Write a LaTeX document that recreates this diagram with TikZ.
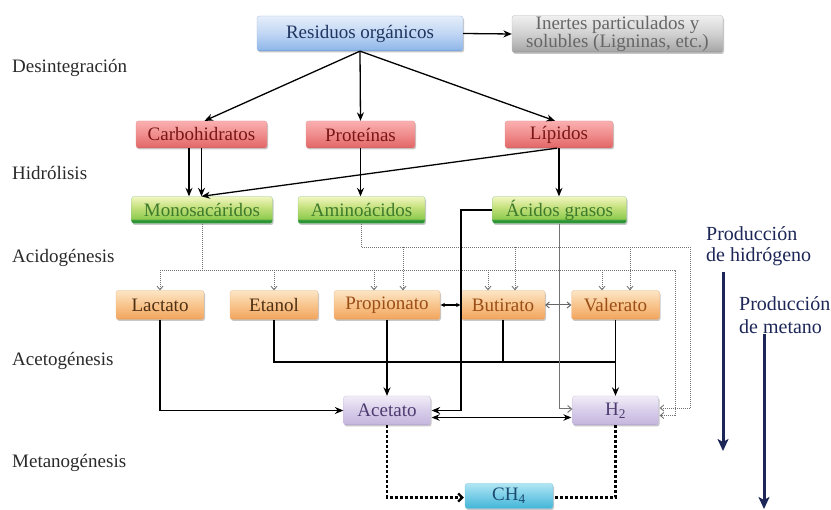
\documentclass[tikz,border=0pt]{standalone}
\usepackage{fontspec}
\setmainfont{Liberation Serif}
\usetikzlibrary{arrows.meta,shadows,calc}
\definecolor{cBlueE}{HTML}{5F8FD0}\definecolor{cBlueB}{HTML}{93B9EA}\definecolor{cBlueM}{HTML}{C0D6F4}\definecolor{cBlueT}{HTML}{E6EEFA}\definecolor{cBlueX}{HTML}{1F3560}
\definecolor{cGrayE}{HTML}{8A8A8A}\definecolor{cGrayB}{HTML}{A9A9A9}\definecolor{cGrayM}{HTML}{D0D0D0}\definecolor{cGrayT}{HTML}{F0F0F0}\definecolor{cGrayX}{HTML}{666666}
\definecolor{cRedE}{HTML}{C94848}\definecolor{cRedB}{HTML}{E46A6A}\definecolor{cRedM}{HTML}{F08C8C}\definecolor{cRedT}{HTML}{FAB0B0}\definecolor{cRedX}{HTML}{7A1616}
\definecolor{cGrnE}{HTML}{2E9438}\definecolor{cGrnB}{HTML}{8FCC50}\definecolor{cGrnM}{HTML}{C4E07C}\definecolor{cGrnT}{HTML}{F2F6C0}\definecolor{cGrnX}{HTML}{3D7A2B}
\definecolor{cOrE}{HTML}{D98840}\definecolor{cOrB}{HTML}{F3A862}\definecolor{cOrM}{HTML}{F8C48C}\definecolor{cOrT}{HTML}{FDE6C6}\definecolor{cOrX}{HTML}{9A4E16}\definecolor{cOrD}{HTML}{4E3014}
\definecolor{cLavE}{HTML}{A898C8}\definecolor{cLavB}{HTML}{C6B8DE}\definecolor{cLavM}{HTML}{D8CDEA}\definecolor{cLavT}{HTML}{F1EDF7}\definecolor{cLavX}{HTML}{4D3B70}
\definecolor{cCyE}{HTML}{2AA0C8}\definecolor{cCyB}{HTML}{48B8DA}\definecolor{cCyM}{HTML}{78CDE6}\definecolor{cCyT}{HTML}{B0E6F4}\definecolor{cCyX}{HTML}{1C4A70}
\definecolor{cNavy}{HTML}{1C2657}
\definecolor{cStage}{HTML}{2A2A2A}
\pgfdeclareverticalshading{shBlue}{100bp}{color(0bp)=(cBlueE); color(25bp)=(cBlueE); color(28bp)=(cBlueB); color(50bp)=(cBlueM); color(75bp)=(cBlueT); color(100bp)=(cBlueT)}
\pgfdeclareverticalshading{shGray}{100bp}{color(0bp)=(cGrayE); color(25bp)=(cGrayE); color(28bp)=(cGrayB); color(50bp)=(cGrayM); color(75bp)=(cGrayT); color(100bp)=(cGrayT)}
\pgfdeclareverticalshading{shRed}{100bp}{color(0bp)=(cRedE); color(25bp)=(cRedE); color(28bp)=(cRedB); color(50bp)=(cRedM); color(75bp)=(cRedT); color(100bp)=(cRedT)}
\pgfdeclareverticalshading{shGrn}{100bp}{color(0bp)=(cGrnE); color(25bp)=(cGrnE); color(31bp)=(cGrnE); color(34bp)=(cGrnB); color(55bp)=(cGrnM); color(75bp)=(cGrnT); color(100bp)=(cGrnT)}
\pgfdeclareverticalshading{shOr}{100bp}{color(0bp)=(cOrE); color(25bp)=(cOrE); color(28bp)=(cOrB); color(50bp)=(cOrM); color(75bp)=(cOrT); color(100bp)=(cOrT)}
\pgfdeclareverticalshading{shLav}{100bp}{color(0bp)=(cLavE); color(25bp)=(cLavE); color(28bp)=(cLavB); color(50bp)=(cLavM); color(75bp)=(cLavT); color(100bp)=(cLavT)}
\pgfdeclareverticalshading{shCy}{100bp}{color(0bp)=(cCyE); color(25bp)=(cCyE); color(28bp)=(cCyB); color(50bp)=(cCyM); color(75bp)=(cCyT); color(100bp)=(cCyT)}
\begin{document}
\begin{tikzpicture}[x=1pt,y=-1pt,
  every node/.style={font=\fontsize{19}{20}\selectfont},
  box/.style={rounded corners=2.5pt, inner sep=0pt, align=center,
    drop shadow={shadow xshift=1pt,shadow yshift=-1.5pt,opacity=.22,fill=black}},
  bluebox/.style={box, shading=shBlue, draw=cBlueE!60, line width=.3pt, text=cBlueX},
  graybox/.style={box, shading=shGray, draw=cGrayE!60, line width=.3pt, text=cGrayX},
  redbox/.style={box, shading=shRed, draw=cRedE!60, line width=.3pt, text=cRedX, minimum height=27pt},
  grnbox/.style={box, shading=shGrn, draw=cGrnE!50, line width=.3pt, text=cGrnX, minimum height=27pt},
  orbox/.style={box, shading=shOr, draw=cOrE!60, line width=.3pt, text=cOrX, minimum height=29pt},
  lavbox/.style={box, shading=shLav, draw=cLavE!60, line width=.3pt, text=cLavX, minimum height=29pt},
  cybox/.style={box, shading=shCy, draw=cCyE!60, line width=.3pt, text=cCyX, minimum height=25pt},
  stage/.style={anchor=west, text=cStage, inner sep=0pt},
  prodtext/.style={anchor=west, text=cNavy, inner sep=0pt, font=\fontsize{20}{22}\selectfont},
  conn/.style={draw=black, line width=1.3pt, -{Stealth[length=8.5pt,width=7pt]}},
  plainline/.style={draw=black, line width=1.3pt},
  bothconn/.style={draw=black, line width=1.3pt, {Stealth[length=8pt,width=6.5pt]}-{Stealth[length=8pt,width=6.5pt]}},
  grayconn/.style={draw=black!55, line width=1pt, -{Straight Barb[length=4pt,width=7pt]}},
  dotline/.style={draw=black!55, line width=0.9pt, dash pattern=on 1pt off 1pt},
  dotarr/.style={dotline, -{Straight Barb[length=3.5pt,width=6pt]}},
  dashthick/.style={draw=black, line width=2.3pt, dash pattern=on 3pt off 2pt},
  navyarr/.style={draw=cNavy, line width=3pt, -{Stealth[length=12pt,width=11pt,inset=3pt]}}
]
\useasboundingbox (0,0) rectangle (831,510);

% stage labels
\node[stage] (s1) at (12,68) {Desintegración};
\node[stage] (s2) at (12,173) {Hidrólisis};
\node[stage] (s3) at (12,258) {Acidogénesis};
\node[stage] (s4) at (12,361) {Acetogénesis};
\node[stage] (s5) at (12,463) {Metanogénesis};

% boxes
\node[bluebox, minimum width=206pt, minimum height=35pt] (res) at (360,33.5) {Residuos orgánicos};
\node[graybox, minimum width=211pt, minimum height=37pt] (inert) at (617.5,34) {Inertes particulados y\\[-2pt]solubles (Ligninas, etc.)};
\node[redbox, minimum width=131pt] (carb) at (201.5,134.5) {Carbohidratos};
\node[redbox, minimum width=109pt] (prot) at (360.5,134.5) {Proteínas};
\node[redbox, minimum width=108pt] (lip) at (559,134.5) {Lípidos};
\node[grnbox, minimum width=141pt] (mono) at (202,210) {Monosacáridos};
\node[grnbox, minimum width=127pt] (amino) at (361.5,210) {Aminoácidos};
\node[grnbox, minimum width=134pt] (acid) at (559.5,210) {Ácidos grasos};
\node[orbox, minimum width=88pt, text=cOrD] (lact) at (160,305) {Lactato};
\node[orbox, minimum width=88pt, text=cOrD] (etan) at (274,305) {Etanol};
\node[orbox, minimum width=106pt] (prop) at (387,305) {Propionato};
\node[orbox, minimum width=84pt] (but) at (503,305) {Butirato};
\node[orbox, minimum width=88pt] (val) at (615.5,305) {Valerato};
\node[lavbox, minimum width=87pt] (acet) at (387,410.5) {Acetato};
\node[lavbox, minimum width=86pt] (h2) at (615.5,410.5) {H\textsubscript{2}};
\node[cybox, minimum width=88pt] (ch4) at (509,496) {CH\textsubscript{4}};

% production labels
\node[prodtext] (ph1) at (706,234) {Producción};
\node[prodtext] (ph2) at (706,257) {de hidrógeno};
\node[prodtext] (pm1) at (739,304) {Producción};
\node[prodtext] (pm2) at (739,327) {de metano};
\coordinate (ha) at (723,272);
\coordinate (hb) at (723,451);
\coordinate (ma) at (764,334);
\coordinate (mb) at (764,509);
\draw[navyarr] (ha) -- (hb);
\draw[navyarr] (ma) -- (mb);

% helper coordinates
\coordinate (hl) at (0,362);
\coordinate (lowL) at (0,270);
\coordinate (upL) at (0,247);
\coordinate (xin) at (675,0);
\coordinate (xout) at (690,0);
\coordinate (xac) at (461,0);
\coordinate (h2in) at ($(h2.east)+(1,5)$);
\coordinate (h2out) at ($(h2.east)+(1,-2.5)$);

% disintegration
\draw[conn] (res.east) -- (inert.west);
\draw[conn] (res.south) -- ([xshift=3pt]carb.north);
\draw[conn] (res.south) -- (prot.north);
\draw[conn] (res.south) -- ([xshift=-4pt]lip.north);

% hydrolysis
\draw[conn] ([xshift=-12.5pt]carb.south) -- ([xshift=-12.5pt]carb.south |- mono.north);
\draw[conn] (carb.south) -- (carb.south |- mono.north);
\draw[conn] ([xshift=-2pt]lip.south) -- ([xshift=-0.5pt]mono.north);
\draw[conn] (prot.south) -- (prot.south |- amino.north);
\draw[conn] (lip.south) -- (lip.south |- acid.north);

% acidogenesis (dotted)
\draw[dotline] (mono.south) -- (mono.south |- lowL);
\draw[dotline] (lact.north |- lowL) -- (xin |- lowL) -- (xin |- h2in);
\draw[dotarr] (xin |- h2in) -- (h2in);
\draw[dotline] (amino.south) |- (xout |- upL) -- (xout |- h2out);
\draw[dotarr] (xout |- h2out) -- (h2out);
\draw[dotarr] (lact.north |- lowL) -- (lact.north);
\draw[dotarr] (etan.north |- lowL) -- (etan.north);
\draw[dotarr] ([xshift=-13pt]prop.north |- lowL) -- ([xshift=-13pt]prop.north);
\draw[dotarr] ([xshift=-15pt]but.north |- lowL) -- ([xshift=-15pt]but.north);
\draw[dotarr] ([xshift=-13.5pt]val.north |- lowL) -- ([xshift=-13.5pt]val.north);
\draw[dotarr] ([xshift=16pt]prop.north |- upL) -- ([xshift=16pt]prop.north);
\draw[dotarr] ([xshift=12pt]but.north |- upL) -- ([xshift=12pt]but.north);
\draw[dotarr] ([xshift=14.5pt]val.north |- upL) -- ([xshift=14.5pt]val.north);

% between acids
\draw[draw=black, line width=1.1pt, {Latex[length=4.5pt,width=4.5pt]}-{Latex[length=4.5pt,width=4.5pt]}] (prop.east) -- (but.west);
\draw[draw=black!60, line width=1pt, {Straight Barb[length=3.5pt,width=6pt]}-{Straight Barb[length=3.5pt,width=6pt]}] (but.east) -- (val.west);

% acetogenesis
\draw[plainline] (etan.south) |- (val.south |- hl);
\draw[plainline] (but.south) -- (but.south |- hl);
\draw[conn] (val.south) -- (h2.north);
\draw[conn] (prop.south) -- (acet.north);
\draw[conn] (lact.south) |- (acet.west);
\draw[conn] (acid.west) -| (xac |- acet.east) -- ([xshift=1pt]acet.east);
\draw[grayconn] (acid.south) |- ([yshift=1.5pt]h2.west);
\draw[bothconn] ([yshift=-7pt,xshift=1pt]acet.east) -- ([yshift=-7pt,xshift=-1pt]h2.west);

% methanogenesis
\draw[dashthick, -{Straight Barb[length=4pt,width=8pt]}] (acet.south) |- ([xshift=-1pt,yshift=-1.5pt]ch4.west);
\draw[dashthick] (h2.south) |- ([yshift=-1.5pt]ch4.east);
\end{tikzpicture}
\end{document}
